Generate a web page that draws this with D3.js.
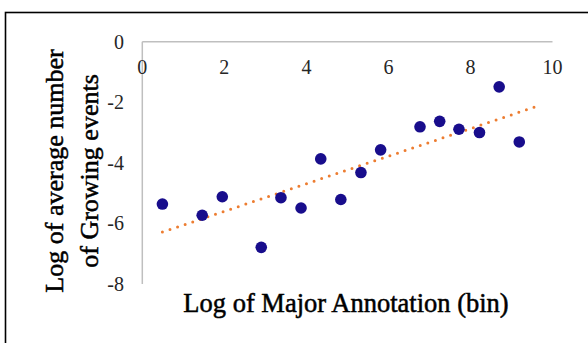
<!DOCTYPE html>
<html>
<head>
<meta charset="utf-8">
<script src="https://cdn.jsdelivr.net/npm/d3@7"></script>
<style>
  html, body { margin: 0; padding: 0; background: #fff; }
  svg { display: block; }
  text { font-family: "Liberation Serif", "DejaVu Serif", serif; }
</style>
</head>
<body>
<svg id="chart" width="588" height="343"></svg>
<script>
// log of major annotation (bin) vs log of average number of growing events
var logAnnotation = [0.49, 1.46, 1.95, 2.90, 3.38, 3.87, 4.35, 4.84, 5.33, 5.81, 6.77, 7.25, 7.72, 8.22, 8.70, 9.19];
var logGrowing    = [-5.36, -5.73, -5.12, -6.79, -5.15, -5.49, -3.87, -5.21, -4.32, -3.57, -2.81, -2.63, -2.89, -3.00, -1.49, -3.31];
var xTicks = [0, 2, 4, 6, 8, 10];
var yTicks = [0, -2, -4, -6, -8];
var trendForward = 0.5;

var svg = d3.select("#chart");

// frame of the chart area (right and bottom edges run off the picture)
svg.append("rect")
    .attr("x", 5.5).attr("y", 12.5)
    .attr("width", 700).attr("height", 500)
    .attr("fill", "none")
    .attr("stroke", "#000")
    .attr("stroke-width", 1.6);

var x = d3.scaleLinear().domain([0, 10]).range([142.3, 552.5]);
var y = d3.scaleLinear().domain([-8, 0]).range([284, 41.7]);

// axis lines
svg.append("line")
    .attr("x1", x(0)).attr("x2", x(10))
    .attr("y1", y(0)).attr("y2", y(0))
    .attr("stroke", "#bfbfbf").attr("stroke-width", 1.5);
svg.append("line")
    .attr("x1", x(0)).attr("x2", x(0))
    .attr("y1", y(0)).attr("y2", y(-8))
    .attr("stroke", "#bfbfbf").attr("stroke-width", 1.5);

// tick labels
svg.selectAll(".xt").data(xTicks).enter().append("text")
    .attr("class", "xt")
    .attr("x", function(d) { return x(d); })
    .attr("y", y(0) + 25)
    .attr("dy", "0.35em")
    .attr("text-anchor", "middle")
    .attr("font-size", 20)
    .attr("fill", "#262626")
    .text(function(d) { return d; });

svg.selectAll(".yt").data(yTicks).enter().append("text")
    .attr("class", "yt")
    .attr("x", 124)
    .attr("y", function(d) { return y(d); })
    .attr("dy", "0.35em")
    .attr("text-anchor", "end")
    .attr("font-size", 20)
    .attr("fill", "#262626")
    .text(function(d) { return d; });

// linear trendline (least squares)
var n = logAnnotation.length;
var mx = d3.mean(logAnnotation), my = d3.mean(logGrowing);
var sxy = 0, sxx = 0;
for (var i = 0; i < n; i++) {
    sxy += (logAnnotation[i] - mx) * (logGrowing[i] - my);
    sxx += (logAnnotation[i] - mx) * (logAnnotation[i] - mx);
}
var slope = sxy / sxx;
var icpt = my - slope * mx;
var x0 = d3.min(logAnnotation), x1 = d3.max(logAnnotation) + trendForward;

svg.append("line")
    .attr("x1", x(x0)).attr("y1", y(icpt + slope * x0))
    .attr("x2", x(x1)).attr("y2", y(icpt + slope * x1))
    .attr("stroke", "#ed7d31")
    .attr("stroke-width", 3)
    .attr("stroke-linecap", "round")
    .attr("stroke-dasharray", "0,8");

// points
svg.selectAll(".pt").data(logAnnotation).enter().append("circle")
    .attr("class", "pt")
    .attr("cx", function(d) { return x(d); })
    .attr("cy", function(d, i) { return y(logGrowing[i]); })
    .attr("r", 5.8)
    .attr("fill", "#180d8c");

// axis titles, a touch heavier like the original
svg.append("text")
    .attr("x", 346).attr("y", 311.5)
    .attr("text-anchor", "middle")
    .attr("font-size", 26.5)
    .attr("fill", "#000")
    .attr("stroke", "#000").attr("stroke-width", 0.5)
    .text("Log of Major Annotation (bin)");

var yt = svg.append("text")
    .attr("transform", "translate(63,171) rotate(-90)")
    .attr("text-anchor", "middle")
    .attr("font-size", 26)
    .attr("fill", "#000")
    .attr("stroke", "#000").attr("stroke-width", 0.5);
yt.append("tspan").attr("x", 0).attr("y", 0).text("Log of average number");
yt.append("tspan").attr("x", 0).attr("y", 35).text("of Growing events");
</script>
</body>
</html>
